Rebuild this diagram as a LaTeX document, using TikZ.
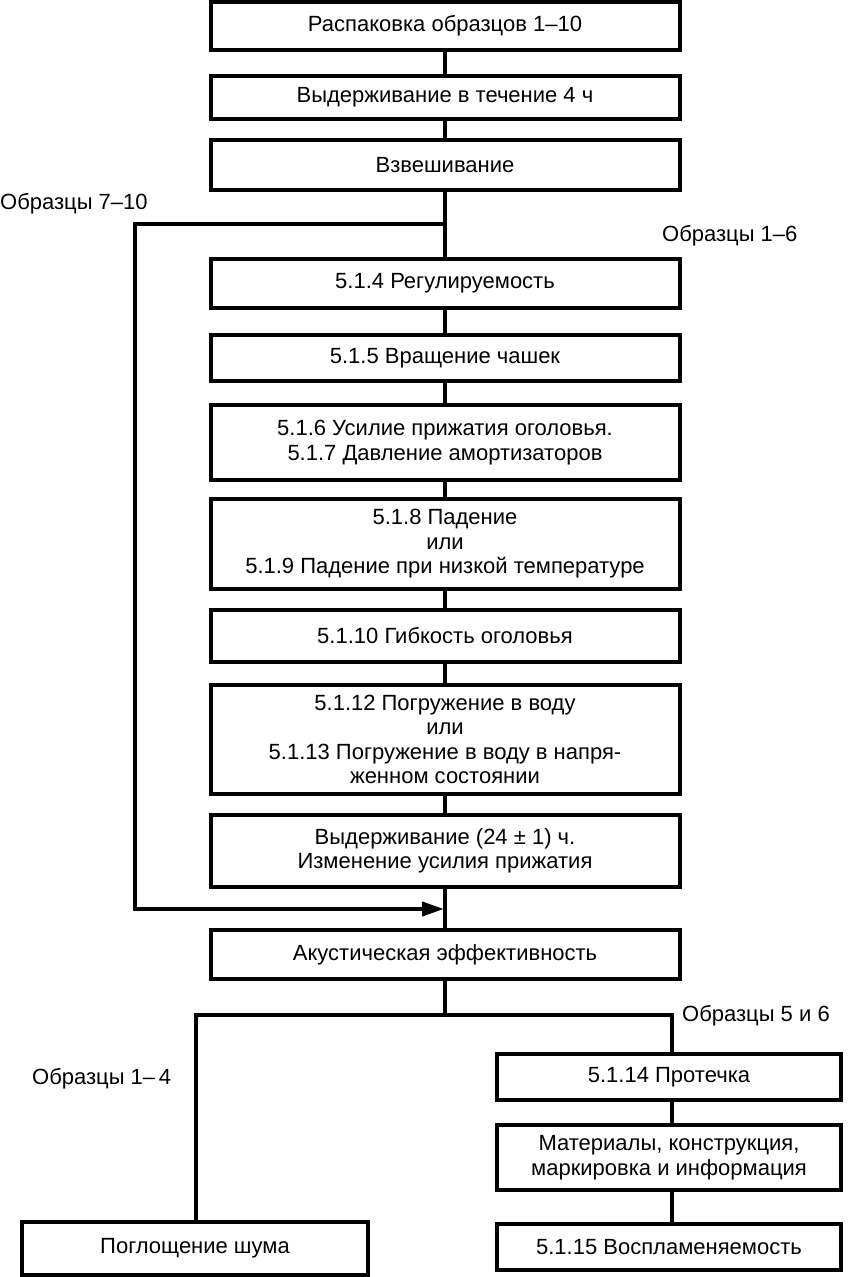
\documentclass[tikz,border=0pt]{standalone}
\usepackage{fontspec}
\setmainfont{Liberation Sans}
\usetikzlibrary{arrows.meta}
\begin{document}
\begin{tikzpicture}[x=1pt,y=-1pt,
  box/.style={draw,line width=4pt,align=center,inner sep=0pt,
    font=\fontsize{22}{24.5}\selectfont},
  mainbox/.style={box,minimum width=469pt},
  leftbox/.style={box,minimum width=346pt},
  rightbox/.style={box,minimum width=344pt},
  conn/.style={line width=4pt},
  lbl/.style={anchor=west,inner sep=0pt,font=\fontsize{22}{24.5}\selectfont}]
\useasboundingbox (0,0) rectangle (847,1277);
\node[mainbox,minimum height=48pt] (b1) at (445,26) {Распаковка образцов 1–10};
\node[mainbox,minimum height=43pt] (b2) at (445,97.5) {Выдерживание в течение 4 ч};
\node[mainbox,minimum height=50pt] (b3) at (445,165) {Взвешивание};
\node[mainbox,minimum height=49pt] (b4) at (445,283.5) {5.1.4 Регулируемость};
\node[mainbox,minimum height=46pt] (b5) at (445,358) {5.1.5 Вращение чашек};
\node[mainbox,minimum height=75pt] (b6) at (445,442.5) {5.1.6 Усилие прижатия оголовья.\\5.1.7 Давление амортизаторов};
\node[mainbox,minimum height=90pt] (b7) at (445,544) {5.1.8 Падение\\или\\5.1.9 Падение при низкой температуре};
\node[mainbox,minimum height=52pt] (b8) at (445,636) {5.1.10 Гибкость оголовья};
\node[mainbox,minimum height=109pt] (b9) at (445,739.5) {5.1.12 Погружение в воду\\или\\5.1.13 Погружение в воду в напря-\\женном состоянии};
\node[mainbox,minimum height=72pt] (b10) at (445,851) {Выдерживание (24 ± 1) ч.\\Изменение усилия прижатия};
\node[mainbox,minimum height=49pt] (b11) at (445,954.5) {Акустическая эффективность};
\node[leftbox,minimum height=53pt] (l1) at (195,1248.5) {Поглощение шума};
\node[rightbox,minimum height=46pt] (r1) at (669,1077) {5.1.14 Протечка};
\node[rightbox,minimum height=65pt] (r2) at (669,1157.5) {Материалы, конструкция,\\маркировка и информация};
\node[rightbox,minimum height=46pt] (r3) at (669,1247) {5.1.15 Воспламеняемость};

\node[lbl] (t1) at (0,204) {Образцы 7–10};
\node[lbl] (t2) at (662,236) {Образцы 1–6};
\node[lbl] (t3) at (682,1016) {Образцы 5 и 6};
\node[lbl] (t4) at (32,1079) {Образцы 1–\,4};

\coordinate (br1) at (445,224);
\coordinate (lc1) at (135,224);
\coordinate (lc2) at (135,909);
\coordinate (tip) at (444,909);
\coordinate (br2) at (445,1015);
\coordinate (bl) at (196,1015);
\coordinate (brr) at (672,1015);

\draw[conn] (b1.south) -- (b2.north);
\draw[conn] (b2.south) -- (b3.north);
\draw[conn] (b3.south) -- (b4.north);
\draw[conn] (b4.south) -- (b5.north);
\draw[conn] (b5.south) -- (b6.north);
\draw[conn] (b6.south) -- (b7.north);
\draw[conn] (b7.south) -- (b8.north);
\draw[conn] (b8.south) -- (b9.north);
\draw[conn] (b9.south) -- (b10.north);
\draw[conn] (b10.south) -- (b11.north);
\draw[conn,-{Triangle[length=22pt,width=14pt]}] (br1) -- (lc1) -- (lc2) -- (tip);
\draw[conn] (b11.south) -- (br2);
\draw[conn] (l1.north -| bl) -- (bl) -- (brr) -- (r1.north -| brr);
\draw[conn] (r1.south -| brr) -- (r2.north -| brr);
\draw[conn] (r2.south -| brr) -- (r3.north -| brr);
\end{tikzpicture}
\end{document}
